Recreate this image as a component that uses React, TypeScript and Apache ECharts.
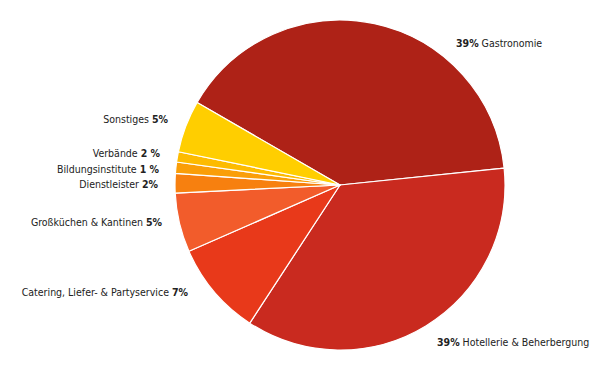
import React, { useEffect, useRef } from "react";
import * as echarts from "echarts";

const categories = [
  "Gastronomie",
  "Hotellerie & Beherbergung",
  "Catering, Liefer- & Partyservice",
  "Großküchen & Kantinen",
  "Dienstleister",
  "Bildungsinstitute",
  "Verbände",
  "Sonstiges",
];
// slice sizes as drawn in the picture
const values = [40.0, 35.8, 9.2, 5.8, 1.9, 1.1, 1.0, 5.1];
// percentage texts as printed in the labels
const percentLabels = ["39%", "39%", "7%", "5%", "2%", "1 %", "2 %", "5%"];
const colors = ["#AE2217", "#C92A1F", "#E8391A", "#F25C2B", "#F7800F", "#FA9E08", "#FDBB00", "#FFCE00"];

// label anchor positions (x, y, align)
const labelPos: [number, number, string][] = [
  [456, 43, "left"],
  [437, 342, "left"],
  [188, 292, "right"],
  [162, 222, "right"],
  [158, 184, "right"],
  [159, 169, "right"],
  [160, 153, "right"],
  [168, 119, "right"],
];

export default function App() {
  const ref = useRef<HTMLDivElement>(null);
  useEffect(() => {
    if (!ref.current) return;
    const chart = echarts.init(ref.current, null, { renderer: "svg" });
    const font = "'DejaVu Sans Condensed', 'Liberation Sans Narrow', sans-serif";
    chart.setOption({
      animation: false,
      backgroundColor: "#ffffff",
      series: [
        {
          type: "pie",
          center: [340, 185],
          radius: [0, 165],
          startAngle: 150,
          clockwise: true,
          avoidLabelOverlap: false,
          itemStyle: { borderColor: "#ffffff", borderWidth: 1.2 },
          labelLine: { show: false },
          label: {
            show: true,
            position: "outside",
            fontFamily: font,
            fontSize: 10.5,
            color: "#222222",
            formatter: (p: any) => {
              const pct = percentLabels[p.dataIndex];
              if (p.dataIndex < 2) return `{b|${pct}} {n|${p.name}}`;
              return `{n|${p.name}} {b|${pct}}`;
            },
            rich: {
              b: { fontFamily: font, fontSize: 10.5, fontWeight: "bold", color: "#222222" },
              n: { fontFamily: font, fontSize: 10.5, color: "#222222" },
            },
          },
          labelLayout: (params: any) => {
            const pos = labelPos[params.dataIndex];
            return { x: pos[0], y: pos[1], align: pos[2], verticalAlign: "middle" };
          },
          emphasis: { disabled: true },
          data: categories.map((c, i) => ({
            name: c,
            value: values[i],
            itemStyle: { color: colors[i] },
          })),
        },
      ],
    });
    return () => chart.dispose();
  }, []);
  return (
    <div
      ref={ref}
      style={{ position: "fixed", left: 0, top: 0, width: 600, height: 377 }}
    />
  );
}
